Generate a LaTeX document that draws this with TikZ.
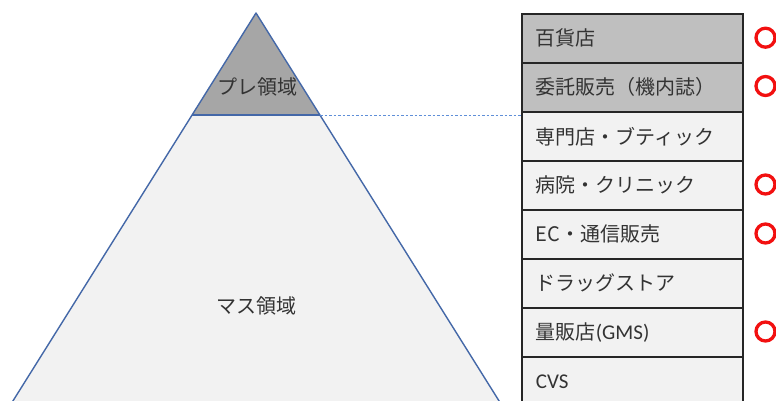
\documentclass[tikz,border=0pt]{standalone}
\usepackage{fontspec}
\setmainfont{Noto Sans CJK JP}
\newfontfamily\latinf{Carlito}
\definecolor{txt}{HTML}{333333}
\definecolor{triblue}{HTML}{4468A8}
\definecolor{topgray}{HTML}{A6A6A6}
\definecolor{rowgray}{HTML}{BFBFBF}
\definecolor{lightfill}{HTML}{F2F2F2}
\definecolor{ringred}{HTML}{F21010}
\definecolor{dashblue}{HTML}{5F8FD8}
\tikzset{
  rowbox/.style={draw=black!85, line width=1.6pt, anchor=north west, text width=193pt,
    inner xsep=14pt, inner ysep=0pt, minimum height=49pt, align=left, text=txt,
    font=\fontsize{20}{23}\selectfont},
  ring/.style={circle, draw=ringred, line width=3.3pt, minimum size=19pt, inner sep=0pt},
  tri/.style={draw=triblue, line width=1.4pt, line join=round},
  lbl/.style={text=txt, font=\fontsize{20}{23}\selectfont}
}
\begin{document}
\begin{tikzpicture}[x=1pt,y=-1pt]
\useasboundingbox (0,0) rectangle (776,401);
\clip (0,0) rectangle (776,401);
\fill[white] (0,0) rectangle (776,401);
% triangle
\coordinate (apex) at (256,13);
\coordinate (ml) at (192,115);
\coordinate (mr) at (320,115);
\coordinate (bl) at (1,420);
\coordinate (br) at (511,420);
\fill[lightfill] (ml) -- (mr) -- (br) -- (bl) -- cycle;
\fill[topgray] (apex) -- (mr) -- (ml) -- cycle;
\draw[tri] (bl) -- (apex) -- (br);
\draw[tri] (ml) -- (mr);
\node[lbl] (pre) at (257,87) {プレ領域};
\node[lbl] (mass) at (256,306) {マス領域};
% table
\node[rowbox, fill=rowgray] (r1) at (521,13) {百貨店};
\node[rowbox, fill=rowgray] (r2) at (521,62) {委託販売（機内誌）};
\node[rowbox, fill=lightfill] (r3) at (521,111) {専門店・ブティック};
\node[rowbox, fill=lightfill] (r4) at (521,160) {病院・クリニック};
\node[rowbox, fill=lightfill] (r5) at (521,209) {EC・通信販売};
\node[rowbox, fill=lightfill] (r6) at (521,258) {ドラッグストア};
\node[rowbox, fill=lightfill] (r7) at (521,307) {量販店{\latinf\fontsize{21}{23}\selectfont (GMS)}};
\node[rowbox, fill=lightfill] (r8) at (521,356) {{\latinf\fontsize{21}{23}\selectfont CVS}};
\coordinate (dl) at (521,115.5);
\draw[dashblue, line width=1pt, dash pattern=on 2.5pt off 2pt] (320,115.5) -- (dl);
% rings
\node[ring] (c1) at (765.5,37.7) {};
\node[ring] (c2) at (765.5,86) {};
\node[ring] (c4) at (765.5,184.5) {};
\node[ring] (c5) at (765.5,233.5) {};
\node[ring] (c7) at (765.5,331.5) {};
\end{tikzpicture}
\end{document}
